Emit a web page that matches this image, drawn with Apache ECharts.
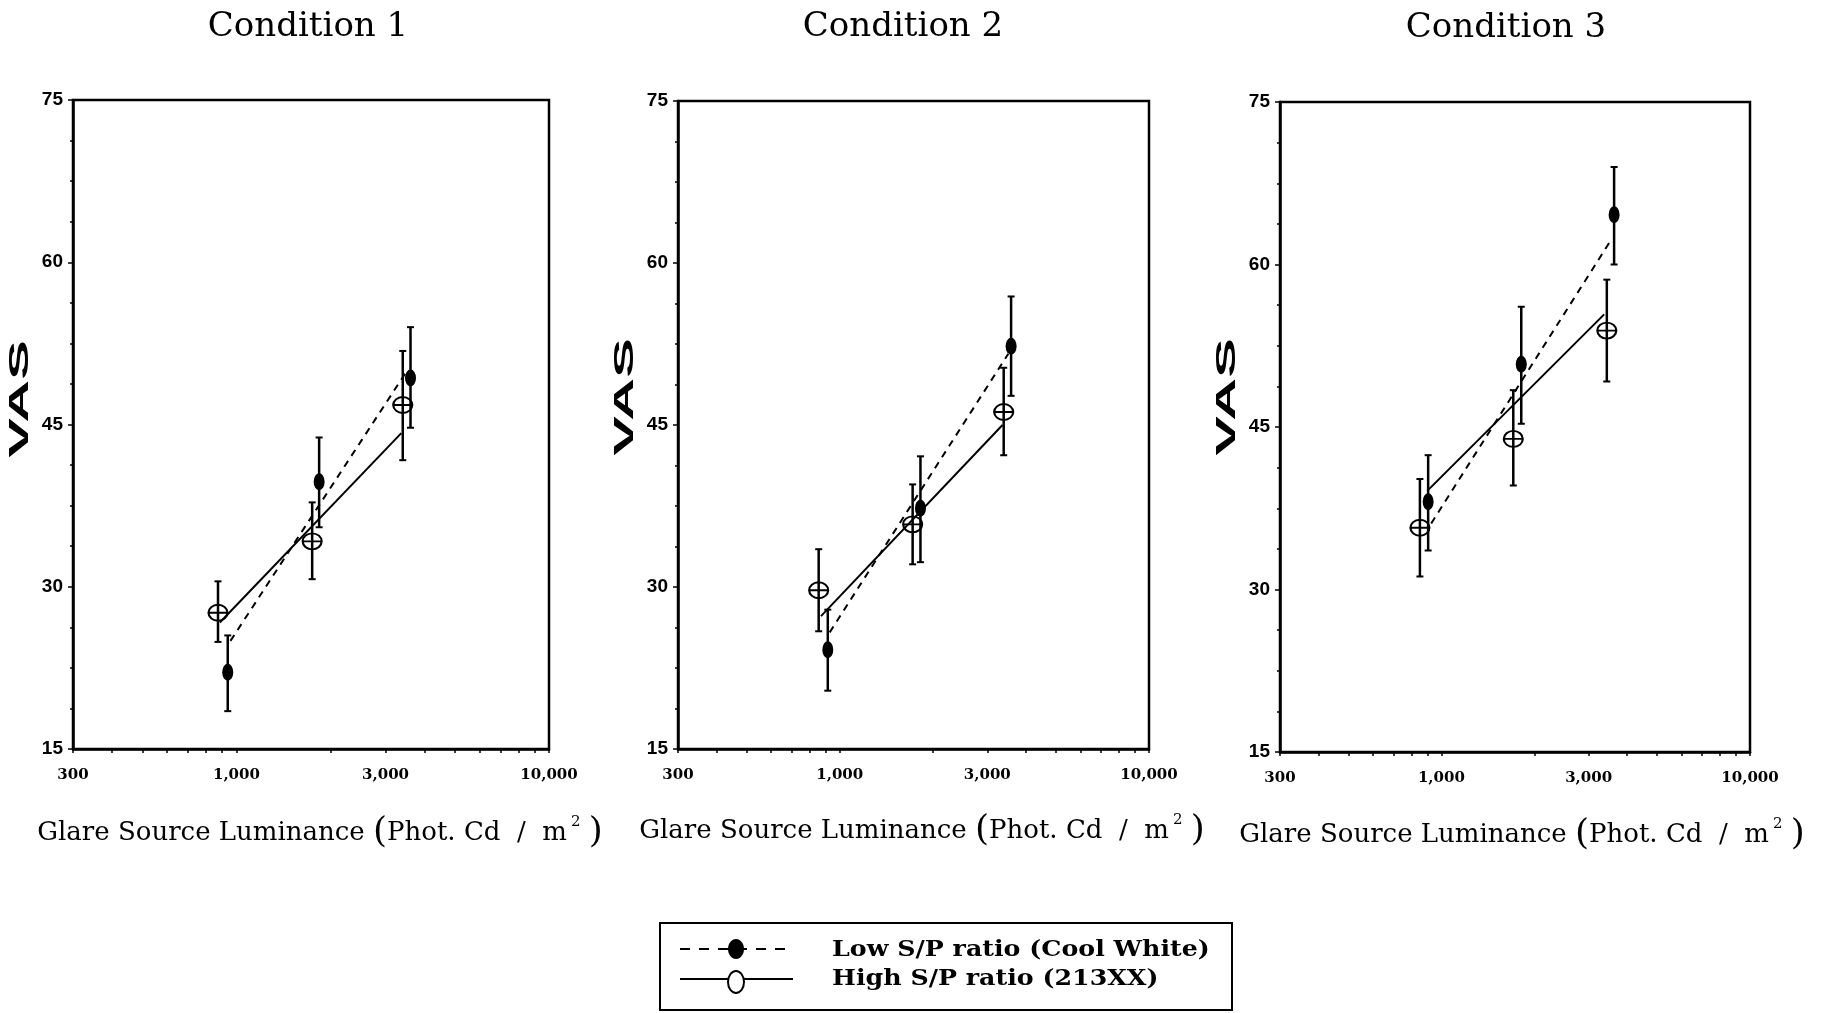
<!DOCTYPE html>
<html><head><meta charset="utf-8">
<script src="https://cdn.jsdelivr.net/npm/echarts@6/dist/echarts.min.js"></script>
<style>html,body{margin:0;padding:0;background:#fff}#c{width:1829px;height:1013px}</style>
</head><body><div id="c"></div>
<script>
// ---------- data ----------
const conditions = ['Condition 1', 'Condition 2', 'Condition 3'];
const xTickLabels = [300, 1000, 3000, 10000];
const xMinorTicks = [300, 400, 500, 600, 700, 800, 900, 1000, 2000, 3000, 4000, 5000, 6000, 7000, 8000, 9000, 10000];
const yTicks = [15, 30, 45, 60, 75];
const legendNames = ['Low S/P ratio (Cool White)', 'High S/P ratio (213XX)'];
const xAxisTitle = 'Glare Source Luminance';
const yAxisTitle = 'VAS';

// Low S/P ratio (Cool White): one row per condition
const lowLum = [[938, 1839, 3605], [915, 1824, 3582], [906, 1815, 3628]];
const lowVAS = [[22.1, 39.7, 49.3], [24.2, 37.3, 52.3], [38.1, 50.8, 64.6]];
const lowErrMin = [[18.5, 35.5, 44.7], [20.4, 32.3, 47.7], [33.6, 45.3, 60.0]];
const lowErrMax = [[25.5, 43.8, 54.0], [27.9, 42.1, 56.9], [42.4, 56.1, 69.0]];
const lowFitLum = [[957, 3538], [928, 3509], [927, 3516]];
const lowFitVAS = [[25.0, 50.1], [25.8, 51.6], [36.1, 62.1]];

// High S/P ratio (213XX)
const highLum = [[873, 1747, 3405], [855, 1721, 3390], [852, 1710, 3436]];
const highVAS = [[27.6, 34.2, 46.8], [29.7, 35.8, 46.2], [35.7, 43.9, 53.9]];
const highErrMin = [[24.9, 30.7, 41.7], [25.9, 32.1, 42.2], [31.2, 39.6, 49.2]];
const highErrMax = [[30.5, 37.8, 51.8], [33.5, 39.5, 50.3], [40.2, 48.4, 58.6]];
const highFitLum = [[885, 3369], [870, 3360], [900, 3369]];
const highFitVAS = [[26.7, 44.2], [27.3, 45.0], [39.1, 55.4]];

// ---------- layout ----------
const grids = [
  {left: 73, top: 100, width: 476, height: 649},
  {left: 678, top: 101, width: 471, height: 648},
  {left: 1280, top: 102, width: 470, height: 650}
];
const titlePos = [[308, 27], [903, 27], [1506, 28]];
const xNamePos = [[320, 833], [922, 831], [1522, 835]];
const vasPos = [[21, 399], [626, 397], [1228, 397]];

const FILLED = 'path://M0,7A5,7 0 1,1 10,7A5,7 0 1,1 0,7Z';
const OPEN = 'path://M0,7A9,7 0 1,1 18,7A9,7 0 1,1 0,7ZM0,7L18,7';

function fmt(v) { return String(Math.round(v)).replace(/\B(?=(\d{3})+(?!\d))/g, ','); }

function errRender(params, api) {
  const x = api.value(0), lo = api.value(1), hi = api.value(2);
  const p1 = api.coord([x, hi]), p2 = api.coord([x, lo]);
  const cap = 3.5;
  return {type: 'group', children: [
    {type: 'line', shape: {x1: p1[0], y1: p1[1], x2: p2[0], y2: p2[1]}, style: {stroke: '#000', lineWidth: 2.5}},
    {type: 'line', shape: {x1: p1[0] - cap, y1: p1[1], x2: p1[0] + cap, y2: p1[1]}, style: {stroke: '#000', lineWidth: 2}},
    {type: 'line', shape: {x1: p2[0] - cap, y1: p2[1], x2: p2[0] + cap, y2: p2[1]}, style: {stroke: '#000', lineWidth: 2}}
  ]};
}

const gridOpt = [], xAxes = [], yAxes = [], series = [], graphics = [];
conditions.forEach((name, i) => {
  gridOpt.push(Object.assign({show: true, borderColor: '#000', borderWidth: 2.5, backgroundColor: 'transparent'}, grids[i]));
  xAxes.push({
    type: 'log', gridIndex: i, min: xTickLabels[0], max: xTickLabels[xTickLabels.length - 1],
    axisLine: {show: true, lineStyle: {color: '#000', width: 2.5}},
    axisTick: {show: true, inside: false, length: 4, customValues: xMinorTicks, lineStyle: {color: '#000', width: 1.5}},
    axisLabel: {show: true, customValues: xTickLabels, formatter: fmt, margin: 19, showMinLabel: true, showMaxLabel: true,
      color: '#000', fontFamily: 'DejaVu Serif', fontWeight: 'bold', fontSize: 15},
    splitLine: {show: false}, minorTick: {show: false}
  });
  yAxes.push({
    type: 'value', gridIndex: i, min: yTicks[0], max: yTicks[yTicks.length - 1], interval: 15,
    axisLine: {show: true, lineStyle: {color: '#000', width: 2.5}},
    axisTick: {show: true, length: 5, lineStyle: {color: '#000', width: 1.5}},
    minorTick: {show: true, splitNumber: 4, length: 3, lineStyle: {color: '#000', width: 1.5}},
    axisLabel: {color: '#000', fontFamily: 'Liberation Sans', fontWeight: 'bold', fontSize: 19, margin: 10},
    splitLine: {show: false}
  });
  series.push({
    type: 'line', xAxisIndex: i, yAxisIndex: i, symbol: 'none', silent: true, z: 2,
    data: highFitLum[i].map((x, k) => [x, highFitVAS[i][k]]),
    lineStyle: {color: '#000', width: 2, type: 'solid'}
  });
  series.push({
    type: 'line', xAxisIndex: i, yAxisIndex: i, symbol: 'none', silent: true, z: 2,
    data: lowFitLum[i].map((x, k) => [x, lowFitVAS[i][k]]),
    lineStyle: {color: '#000', width: 2, type: [7, 6]}
  });
  series.push({
    type: 'custom', xAxisIndex: i, yAxisIndex: i, renderItem: errRender, z: 3,
    encode: {x: 0, y: [1, 2]},
    data: lowLum[i].map((x, k) => [x, lowErrMin[i][k], lowErrMax[i][k]])
  });
  series.push({
    type: 'custom', xAxisIndex: i, yAxisIndex: i, renderItem: errRender, z: 3,
    encode: {x: 0, y: [1, 2]},
    data: highLum[i].map((x, k) => [x, highErrMin[i][k], highErrMax[i][k]])
  });
  series.push({
    type: 'scatter', name: legendNames[0], xAxisIndex: i, yAxisIndex: i, z: 4,
    symbol: FILLED, symbolSize: [11, 17],
    itemStyle: {color: '#000', opacity: 1},
    data: lowLum[i].map((x, k) => [x, lowVAS[i][k]])
  });
  series.push({
    type: 'scatter', name: legendNames[1], xAxisIndex: i, yAxisIndex: i, z: 4,
    symbol: OPEN, symbolSize: [19, 16],
    itemStyle: {color: 'transparent', borderColor: '#000', borderWidth: 2, opacity: 1},
    data: highLum[i].map((x, k) => [x, highVAS[i][k]])
  });

  graphics.push({type: 'text', x: titlePos[i][0], y: titlePos[i][1],
    style: {text: name, font: '34px "DejaVu Serif"', fill: '#000', align: 'center', verticalAlign: 'middle'}});
  graphics.push({type: 'text', x: xNamePos[i][0], y: xNamePos[i][1],
    style: {
      text: '{t|' + xAxisTitle + ' }{p|(}{t|Phot. Cd  /  m}{s|2}{t| }{p|)}',
      align: 'center', verticalAlign: 'middle', fill: '#000',
      rich: {
        t: {fontFamily: 'DejaVu Serif', fontSize: 26, fill: '#000'},
        p: {fontFamily: 'DejaVu Serif', fontSize: 36, fill: '#000'},
        s: {fontFamily: 'DejaVu Serif', fontSize: 15, fill: '#000', verticalAlign: 'top', padding: [0, 0, 12, 4]}
      }
    }});
  graphics.push({type: 'text', x: vasPos[i][0], y: vasPos[i][1], rotation: Math.PI / 2, scaleX: 2.2,
    style: {text: yAxisTitle, font: 'bold 27px "Liberation Sans"', fill: '#000', align: 'center', verticalAlign: 'middle'}});
});

// legend box
graphics.push({type: 'rect', shape: {x: 660, y: 923, width: 572, height: 87}, style: {fill: 'none', stroke: '#000', lineWidth: 2}});
graphics.push({type: 'line', shape: {x1: 680, y1: 949, x2: 793, y2: 949}, style: {stroke: '#000', lineWidth: 2, lineDash: [10, 9]}});
graphics.push({type: 'ellipse', shape: {cx: 736, cy: 949, rx: 8, ry: 10}, style: {fill: '#000'}});
graphics.push({type: 'line', shape: {x1: 680, y1: 979, x2: 793, y2: 979}, style: {stroke: '#000', lineWidth: 2}});
graphics.push({type: 'ellipse', shape: {cx: 736, cy: 982, rx: 8, ry: 11}, style: {fill: '#fff', stroke: '#000', lineWidth: 2}});
graphics.push({type: 'text', x: 832, y: 950, scaleX: 1.1, style: {text: legendNames[0], font: 'bold 23px "DejaVu Serif"', fill: '#000', verticalAlign: 'middle'}});
graphics.push({type: 'text', x: 832, y: 979, scaleX: 1.1, style: {text: legendNames[1], font: 'bold 23px "DejaVu Serif"', fill: '#000', verticalAlign: 'middle'}});

const chart = echarts.init(document.getElementById('c'), null, {renderer: 'canvas'});
chart.setOption({
  animation: false,
  backgroundColor: '#fff',
  grid: gridOpt, xAxis: xAxes, yAxis: yAxes, series: series, graphic: graphics
});
</script></body></html>
